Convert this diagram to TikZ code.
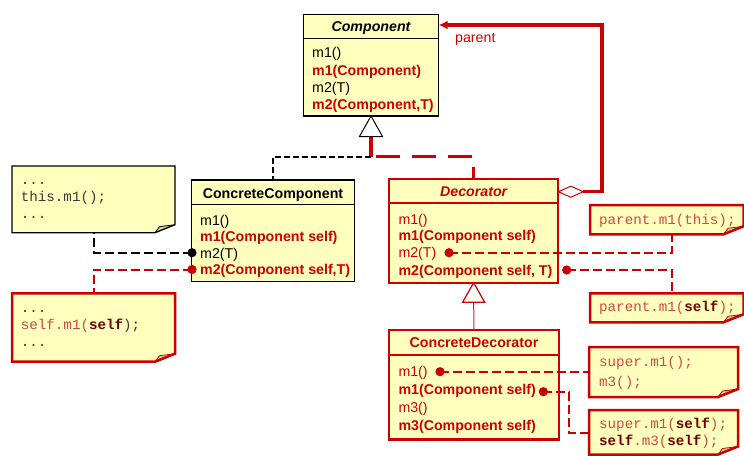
\documentclass[tikz,border=0pt]{standalone}
\usepackage{fontspec}
\setmainfont{Liberation Sans}
\newfontfamily\codefont{Liberation Mono}
\usetikzlibrary{arrows.meta,calc}
\definecolor{umlred}{HTML}{CC0000}
\definecolor{boxfill}{HTML}{FFFFBE}
\definecolor{foldfill}{HTML}{D8D49C}
\definecolor{codered}{HTML}{D04848}
\definecolor{codedark}{HTML}{700000}
\definecolor{codegray}{HTML}{3A3A3A}
\newcommand{\mynote}[3]{%
  \fill[boxfill] (#1.north west) -- (#1.north east) -- ([yshift=8pt]#1.south east) -- ([xshift=-20pt]#1.south east) -- (#1.south west) -- cycle;
  \fill[foldfill] ([yshift=8pt]#1.south east) -- ([xshift=-20pt]#1.south east) -- ([xshift=-15.5pt,yshift=6pt]#1.south east) -- cycle;
  \draw[#2, line width=#3, line join=miter] (#1.north west) -- (#1.north east) -- ([yshift=8pt]#1.south east) -- ([xshift=-20pt]#1.south east) -- (#1.south west) -- cycle;
  \draw[#2, line width=0.8pt] ([yshift=8pt]#1.south east) -- ([xshift=-15.5pt,yshift=6pt]#1.south east) -- ([xshift=-20pt]#1.south east);
}
\tikzset{
  umltext/.style={anchor=base west, inner sep=0pt, font=\fontsize{14.2}{17}\selectfont},
  umlhead/.style={anchor=base, inner sep=0pt, font=\fontsize{14.2}{17}\selectfont\bfseries},
  codetext/.style={anchor=base west, inner sep=0pt, font=\fontsize{14.2}{17}\codefont},
  blackbox/.style={draw=black, fill=boxfill, line width=1.3pt, inner sep=0pt, outer sep=0pt, anchor=north west},
  redbox/.style={draw=umlred, fill=boxfill, line width=2.2pt, inner sep=0pt, outer sep=0pt, anchor=north west},
  holder/.style={inner sep=0pt, outer sep=0pt, anchor=north west},
  reddash/.style={draw=umlred, line width=2pt, dash pattern=on 9pt off 4pt},
  blackdash/.style={draw=black, line width=2pt, dash pattern=on 9pt off 4pt},
  blackdashtop/.style={draw=black, line width=2pt, dash pattern=on 6pt off 3pt},
  thickreddash/.style={draw=umlred, line width=3.5pt, dash pattern=on 24pt off 12pt},
  redsolid/.style={draw=umlred, line width=3.5pt},
  dotmark/.style={fill=umlred},
}
\begin{document}
\begin{tikzpicture}[x=1pt,y=-1pt]
\useasboundingbox (0,0) rectangle (744,455);

% ---------- Component ----------
\node[blackbox, minimum width=135.4pt, minimum height=101.5pt] (comp) at (303.3,14.5) {};
\draw[black, line width=1.3pt] ([yshift=-24.2pt]comp.north west) -- ([yshift=-24.2pt]comp.north east);
\node[umlhead, font=\fontsize{14.2}{17}\selectfont\bfseries\itshape] (comph) at (371,31.5) {Component};
\node[umltext] (c1) at (312,57.7) {m1()};
\node[umltext, text=umlred, font=\fontsize{14.2}{17}\selectfont\bfseries] (c2) at (312,75) {m1(Component)};
\node[umltext] (c3) at (312,92) {m2(T)};
\node[umltext, text=umlred, font=\fontsize{14.2}{17}\selectfont\bfseries] (c4) at (312,109) {m2(Component,T)};

% ---------- ConcreteComponent ----------
\node[blackbox, minimum width=162.6pt, minimum height=101.7pt] (ccomp) at (191.7,180) {};
\draw[black, line width=1.3pt] ([yshift=-24.3pt]ccomp.north west) -- ([yshift=-24.3pt]ccomp.north east);
\node[umlhead] (ccomph) at (273,198.5) {ConcreteComponent};
\node[umltext] (cc1) at (200,225) {m1()};
\node[umltext, text=umlred, font=\fontsize{14.2}{17}\selectfont\bfseries] (cc2) at (200,241.5) {m1(Component self)};
\node[umltext] (cc3) at (200,258) {m2(T)};
\node[umltext, text=umlred, font=\fontsize{14.2}{17}\selectfont\bfseries] (cc4) at (200,274.5) {m2(Component self,T)};

% ---------- Decorator ----------
\node[redbox, minimum width=169.3pt, minimum height=103.4pt] (deco) at (389,179.3) {};
\draw[umlred, line width=2.2pt] ([yshift=-24pt]deco.north west) -- ([yshift=-24pt]deco.north east);
\node[umlhead, text=umlred, font=\fontsize{14.2}{17}\selectfont\bfseries\itshape] (decoh) at (473.7,196.5) {Decorator};
\node[umltext, text=umlred] (d1) at (398.3,224) {m1()};
\node[umltext, text=umlred, font=\fontsize{14.2}{17}\selectfont\bfseries] (d2) at (398.3,240.7) {m1(Component self)};
\node[umltext, text=umlred] (d3) at (398.3,257.7) {m2(T)};
\node[umltext, text=umlred, font=\fontsize{14.2}{17}\selectfont\bfseries] (d4) at (398.3,275) {m2(Component self, T)};

% ---------- ConcreteDecorator ----------
\node[redbox, line width=2.6pt, minimum width=170pt, minimum height=109.3pt] (cdeco) at (389,330) {};
\draw[umlred, line width=2.6pt] ([yshift=-25pt]cdeco.north west) -- ([yshift=-25pt]cdeco.north east);
\node[umlhead, text=umlred] (cdecoh) at (474,347.7) {ConcreteDecorator};
\node[umltext, text=umlred] (cd1) at (398.3,376.7) {m1()};
\node[umltext, text=umlred, font=\fontsize{14.2}{17}\selectfont\bfseries] (cd2) at (398.3,394.3) {m1(Component self)};
\node[umltext, text=umlred] (cd3) at (398.3,412.3) {m3()};
\node[umltext, text=umlred, font=\fontsize{14.2}{17}\selectfont\bfseries] (cd4) at (398.3,430) {m3(Component self)};

% ---------- Notes ----------
\node[holder, minimum width=163pt, minimum height=66.7pt] (n1) at (12,166) {};
\mynote{n1}{black}{1.3pt}
\node[codetext, text=codegray] (n1a) at (20.7,184) {...};
\node[codetext, text=codegray] (n1b) at (20.7,201) {this.m1();};
\node[codetext, text=codegray] (n1c) at (20.7,218) {...};

\node[holder, minimum width=163pt, minimum height=68.4pt] (n2) at (12,293.3) {};
\mynote{n2}{umlred}{2.5pt}
\node[codetext, text=codegray] (n2a) at (20.7,312) {...};
\node[codetext] (n2b) at (20.7,329.5) {{\color{codered}self.m1(}{\color{codedark}\bfseries self}{\color{codegray});}};
\node[codetext, text=codegray] (n2c) at (20.7,346.5) {...};

\node[holder, minimum width=153.5pt, minimum height=29.3pt] (n3) at (590,205) {};
\mynote{n3}{umlred}{2.5pt}
\node[codetext, text=codered] (n3a) at (599,224) {parent.m1(this);};

\node[holder, minimum width=153.5pt, minimum height=29pt] (n4) at (590,293.3) {};
\mynote{n4}{umlred}{2.5pt}
\node[codetext] (n4a) at (599,311.5) {{\color{codered}parent.m1(}{\color{codedark}\bfseries self}{\color{codered});}};

\node[holder, minimum width=149pt, minimum height=50pt] (n5) at (589,347) {};
\mynote{n5}{umlred}{2.5pt}
\node[codetext, text=codered] (n5a) at (599,366.5) {super.m1();};
\node[codetext, text=codered] (n5b) at (599,386.5) {m3();};

\node[holder, minimum width=149pt, minimum height=44.5pt] (n6) at (589,410) {};
\mynote{n6}{umlred}{2.5pt}
\node[codetext] (n6a) at (599,428) {{\color{codered}super.m1(}{\color{codedark}\bfseries self}{\color{codered});}};
\node[codetext] (n6b) at (599,445) {{\color{codedark}\bfseries self}{\color{codered}.m3(}{\color{codedark}\bfseries self}{\color{codered});}};

% ---------- Generalization to Component ----------
\coordinate (t1base) at ($(comp.south)+(0,20.5)$);
\coordinate (j1) at ($(comp.south)+(0,40.5)$);
\draw[redsolid] (t1base) -- (j1);
\draw[blackdashtop] (j1) -| (ccomp.north);
\draw[thickreddash] ([xshift=5pt]j1) -| (deco.north);
\draw[black, line width=1pt, fill=white, line join=miter] (comp.south) -- ++(11.5,20.5) -- ++(-23,0) -- cycle;

% ---------- Generalization to Decorator ----------
\coordinate (t2base) at ($(deco.south)+(0,19.5)$);
\draw[umlred!85, line width=1pt] (t2base) -- (cdeco.north);
\draw[umlred, line width=1.2pt, fill=white, line join=miter] (deco.south) -- ++(11,19.5) -- ++(-22,0) -- cycle;

% ---------- Aggregation parent ----------
\coordinate (dA) at ([yshift=-12.4pt]deco.north east);
\coordinate (dB) at ($(dA)+(25,0)$);
\draw[redsolid, -{Latex[length=9pt,width=9pt]}] (dB) -- ++(18.7,0) |- ([yshift=-10.5pt]comp.north east);
\draw[umlred, line width=1pt, fill=white] (dA) -- ++(12.5,-5.5) -- (dB) -- ++(-12.5,5.5) -- cycle;
\node[anchor=base west, inner sep=0pt, text=umlred, font=\fontsize{14.2}{17}\selectfont] (plabel) at (455,42) {parent};

% ---------- Note connectors ----------
\coordinate (ccdot1) at (192,252.7);
\coordinate (ccdot2) at (192,269.5);
\coordinate (ddot1) at (449,252.7);
\coordinate (ddot2) at (566.7,270);
\coordinate (cddot1) at (440,371.7);
\coordinate (cddot2) at (543.3,391.7);

\draw[blackdash] (ccdot1) -| (n1.south);
\draw[reddash] (ccdot2) -| (n2.north);
\draw[reddash] (ddot1) -| ([xshift=82pt]n3.south west);
\draw[reddash] (ddot2) -| ([xshift=82pt]n4.north west);
\draw[reddash] (cddot1) -- (cddot1 -| n5.west);
\draw[reddash] (cddot2) -- ++(26,0) |- ([yshift=-23.3pt]n6.north west);

\fill[black] (ccdot1) circle (4.6pt);
\fill[dotmark] (ccdot2) circle (4.6pt);
\fill[dotmark] (ddot1) circle (4.6pt);
\fill[dotmark] (ddot2) circle (4.6pt);
\fill[dotmark] (cddot1) circle (4.6pt);
\fill[dotmark] (cddot2) circle (4.6pt);
\end{tikzpicture}
\end{document}
